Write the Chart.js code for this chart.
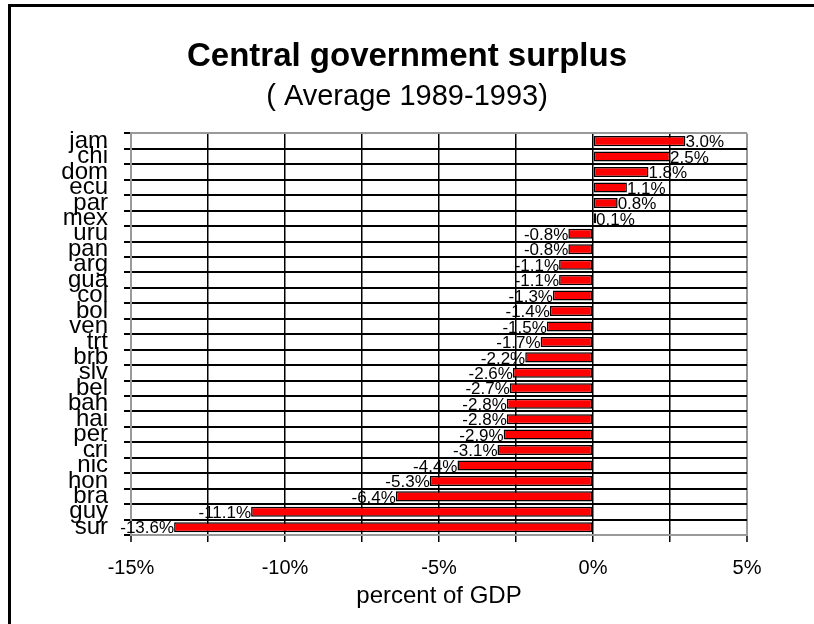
<!DOCTYPE html>
<html>
<head>
<meta charset="utf-8">
<title>Central government surplus</title>
<script src="https://cdn.jsdelivr.net/npm/chart.js@4"></script>
<style>
  html, body { margin: 0; padding: 0; background: #fff; }
  #wrap { position: relative; width: 814px; height: 624px; overflow: hidden; }
  #grafico { position: absolute; left: 0; top: 0; }
  /* moldura preta (só topo e esquerda aparecem no recorte) */
  #moldura { position: absolute; left: 8px; top: 4px; width: 900px; height: 700px;
             border-left: 3px solid #000; border-top: 3px solid #000; pointer-events: none; }
</style>
</head>
<body>
<div id="wrap">
  <canvas id="grafico" width="814" height="624"></canvas>
  <div id="moldura"></div>
</div>
<script>
// Dados
const paises = ["jam", "chi", "dom", "ecu", "par", "mex", "uru", "pan", "arg", "gua",
                "col", "bol", "ven", "trt", "brb", "slv", "bel", "bah", "hai", "per",
                "cri", "nic", "hon", "bra", "guy", "sur"];
const superavit = [3.0, 2.5, 1.8, 1.1, 0.8, 0.1, -0.8, -0.8, -1.1, -1.1,
                   -1.3, -1.4, -1.5, -1.7, -2.2, -2.6, -2.7, -2.8, -2.8, -2.9,
                   -3.1, -4.4, -5.3, -6.4, -11.1, -13.6];
const eixoMin = -15;
const eixoMax = 5;
const passoGrade = 2.5;

const FONTE = '"Liberation Sans", Arial, sans-serif';
const CINZA = "#999999";

// Rótulos de valor na ponta de cada barra
const rotulosBarras = {
    id: "rotulosBarras",
    afterDatasetsDraw(chart) {
        const ctx = chart.ctx;
        const meta = chart.getDatasetMeta(0);
        ctx.save();
        ctx.font = "17px " + FONTE;
        ctx.fillStyle = "#000";
        ctx.textBaseline = "middle";
        meta.data.forEach((barra, i) => {
            const v = superavit[i];
            ctx.textAlign = v >= 0 ? "left" : "right";
            ctx.fillText(v.toFixed(1) + "%", barra.x, barra.y + 1.5);
        });
        ctx.restore();
    }
};

// Centraliza título e subtítulo na largura toda do canvas
const tituloCentrado = {
    id: "tituloCentrado",
    afterLayout(chart) {
        chart.boxes.forEach(b => {
            if (!b.axis && b.options && typeof b.options.text === "string") {
                b.left = 0;
                b.right = chart.width;
                b.width = chart.width;
            }
        });
    }
};

new Chart(document.getElementById("grafico"), {
    type: "bar",
    data: {
        labels: paises,
        datasets: [{
            data: superavit,
            backgroundColor: "#ff0000",
            borderColor: "#000",
            borderWidth: 1.5,
            borderSkipped: false,
            barPercentage: 0.65,
            categoryPercentage: 1
        }]
    },
    options: {
        indexAxis: "y",
        responsive: false,
        maintainAspectRatio: false,
        animation: false,
        layout: { padding: { left: 0, right: 67, top: 0, bottom: 0 } },
        plugins: {
            legend: { display: false },
            tooltip: { enabled: false },
            title: {
                display: true,
                text: "Central government surplus",
                color: "#000",
                font: { family: FONTE, size: 33, weight: "bold", lineHeight: 1.2 },
                padding: { top: 37, bottom: 0 }
            },
            subtitle: {
                display: true,
                text: "( Average 1989-1993)",
                color: "#000",
                font: { family: FONTE, size: 29, lineHeight: 1.2 },
                padding: { top: 3, bottom: 19 }
            }
        },
        scales: {
            x: {
                min: eixoMin,
                max: eixoMax,
                afterFit(scale) { scale.height = 89; },
                border: { display: true, color: CINZA, width: 2 },
                grid: {
                    color: (c) => (c.index === 0 || c.index === 8) ? CINZA : "#000",
                    lineWidth: (c) => (c.index === 0 || c.index === 8) ? 2 : 1.5,
                    tickColor: "#000",
                    tickLength: 7,
                    tickWidth: 1.5
                },
                ticks: {
                    stepSize: passoGrade,
                    autoSkip: false,
                    maxRotation: 0,
                    padding: 14,
                    color: "#000",
                    font: { family: FONTE, size: 20 },
                    callback: (v) => Math.abs(v % 5) < 1e-9 ? v + "%" : ""
                },
                title: {
                    display: true,
                    text: "percent of GDP",
                    color: "#000",
                    font: { family: FONTE, size: 24, lineHeight: 1.2 },
                    padding: { top: 0, bottom: 13 }
                }
            },
            y: {
                afterFit(scale) { scale.width = 131; },
                border: { display: true, color: CINZA, width: 2 },
                grid: {
                    offset: true,
                    color: (c) => (c.type !== "tick" || c.index === 0) ? CINZA : "#000",
                    lineWidth: 2,
                    tickColor: "#000",
                    tickLength: 7,
                    tickWidth: 2
                },
                ticks: {
                    autoSkip: false,
                    padding: 16,
                    color: "#000",
                    font: { family: FONTE, size: 24, lineHeight: 1.2 }
                }
            }
        }
    },
    plugins: [rotulosBarras, tituloCentrado]
});
</script>
</body>
</html>
